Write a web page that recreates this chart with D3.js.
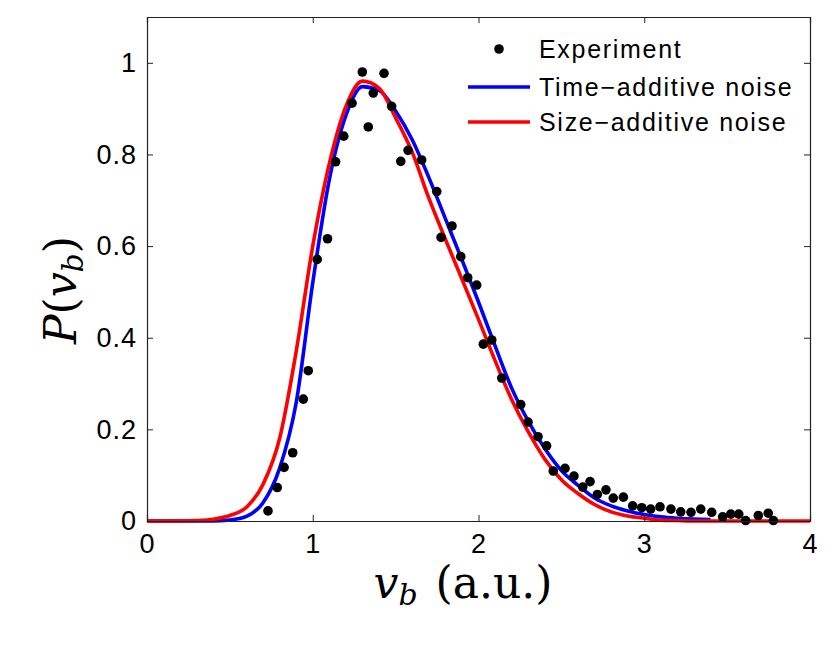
<!DOCTYPE html>
<html lang="en">
	<head>
		<meta charset="utf-8">
		<title>P(v_b) distribution</title>
		<script type="text/javascript" src="https://cdn.jsdelivr.net/npm/d3@7"></script>
		<style type="text/css">
			body { margin: 0; background: #fff; }
			.tick text { font-family: "Liberation Sans", Arial, sans-serif; font-size: 27px; letter-spacing: 1px; fill: #000; }
			.legend text { font-family: "Liberation Sans", Arial, sans-serif; font-size: 25px; letter-spacing: 1.7px; fill: #000; }
			.label { font-family: "DejaVu Serif", "Liberation Serif", serif; fill: #000; }
		</style>
	</head>
	<body>
		<script type="text/javascript">

			//Width and height
			var w = 830;
			var h = 646;
			var margin = {left: 147, right: 20, top: 17, bottom: 125};

			//Experiment points
			var expX = [0.730, 0.786, 0.827, 0.879, 0.943, 0.973, 1.027, 1.089, 1.138, 1.187,
						1.237, 1.299, 1.335, 1.365, 1.430, 1.476, 1.531, 1.575, 1.657, 1.748,
						1.774, 1.840, 1.893, 1.935, 1.989, 2.029, 2.080, 2.140, 2.255, 2.299,
						2.359, 2.411, 2.451, 2.522, 2.576, 2.629, 2.673, 2.717, 2.769, 2.813,
						2.874, 2.930, 2.985, 3.039, 3.095, 3.161, 3.220, 3.282, 3.341, 3.407,
						3.473, 3.522, 3.570, 3.612, 3.688, 3.748, 3.779];
			var expY = [0.022, 0.073, 0.117, 0.149, 0.266, 0.328, 0.571, 0.616, 0.784, 0.840,
						0.912, 0.980, 0.860, 0.934, 0.977, 0.905, 0.785, 0.809, 0.788, 0.719,
						0.619, 0.644, 0.577, 0.531, 0.515, 0.386, 0.395, 0.312, 0.254, 0.216,
						0.184, 0.164, 0.109, 0.115, 0.098, 0.074, 0.086, 0.058, 0.068, 0.050,
						0.052, 0.033, 0.029, 0.026, 0.031, 0.026, 0.020, 0.019, 0.026, 0.019,
						0.009, 0.015, 0.015, 0.001, 0.012, 0.017, 0.001];

			//Time-additive noise curve
			var timeX = [0, 0.1, 0.2, 0.3, 0.4, 0.5, 0.6, 0.7, 0.8, 0.9, 1.0, 1.1, 1.2, 1.3, 1.4, 1.5, 1.6, 1.7,
						 1.8, 1.9, 2.0, 2.1, 2.2, 2.3, 2.4, 2.5, 2.6, 2.7, 2.8, 2.9, 3.0, 3.1, 3.2, 3.3, 3.4];
			var timeY = [0, 0, 0, 0, 0, 0.002, 0.010, 0.040, 0.115, 0.258, 0.520, 0.745, 0.885, 0.948, 0.940, 0.895, 0.832, 0.750,
						 0.660, 0.570, 0.478, 0.382, 0.290, 0.218, 0.158, 0.110, 0.078, 0.050, 0.033, 0.022, 0.014, 0.009, 0.006, 0.004, 0.003];

			//Size-additive noise curve
			var sizeX = [0, 0.1, 0.2, 0.3, 0.4, 0.5, 0.6, 0.7, 0.8, 0.9, 1.0, 1.1, 1.2, 1.3, 1.4, 1.5, 1.6, 1.7,
						 1.8, 1.9, 2.0, 2.1, 2.2, 2.3, 2.4, 2.5, 2.6, 2.7, 2.8, 2.9, 3.0, 3.1, 3.2, 3.3, 3.5, 4.0];
			var sizeY = [0, 0, 0, 0.001, 0.004, 0.012, 0.030, 0.080, 0.180, 0.370, 0.600, 0.780, 0.905, 0.960, 0.945, 0.880, 0.805, 0.705,
						 0.615, 0.528, 0.440, 0.350, 0.265, 0.195, 0.135, 0.090, 0.060, 0.036, 0.020, 0.011, 0.006, 0.002, 0.001, 0, 0, 0];

			var xTicks = [0, 1, 2, 3, 4];
			var yTicks = [0, 0.2, 0.4, 0.6, 0.8, 1];
			var seriesNames = ["Experiment", "Time\u2212additive noise", "Size\u2212additive noise"];

			var xScale = d3.scaleLinear()
							.domain([0, 4])
							.range([margin.left, w - margin.right]);

			var yScale = d3.scaleLinear()
							.domain([0, 1.1])
							.range([h - margin.bottom, margin.top]);

			//Create SVG element
			var svg = d3.select("body")
						.append("svg")
						.attr("width", w)
						.attr("height", h);

			var x0 = xScale.range()[0], x1 = xScale.range()[1];
			var y0 = yScale.range()[0], y1 = yScale.range()[1];

			//Curves
			var line = d3.line()
						.x(function(d) { return xScale(d[0]); })
						.y(function(d) { return yScale(d[1]); })
						.curve(d3.curveMonotoneX);

			svg.append("path")
			   .datum(d3.zip(timeX, timeY))
			   .attr("d", line)
			   .attr("fill", "none")
			   .attr("stroke", "#0000ff")
			   .attr("stroke-width", 3.6);

			svg.append("path")
			   .datum(d3.zip(sizeX, sizeY))
			   .attr("d", line)
			   .attr("fill", "none")
			   .attr("stroke", "#ff0000")
			   .attr("stroke-width", 3.6);

			//Experiment dots
			svg.selectAll("circle.exp")
			   .data(d3.zip(expX, expY))
			   .enter()
			   .append("circle")
			   .attr("class", "exp")
			   .attr("cx", function(d) { return xScale(d[0]); })
			   .attr("cy", function(d) { return yScale(d[1]); })
			   .attr("r", 4.8)
			   .attr("fill", "#000");

			//Axes (ticks pointing inward, box around)
			var tickLen = 6;
			svg.append("g")
			   .attr("transform", "translate(0," + y0 + ")")
			   .call(d3.axisBottom(xScale).tickValues(xTicks).tickSize(-tickLen).tickPadding(13)
					.tickFormat(function(d) { return String(d); }));
			svg.append("g")
			   .attr("transform", "translate(0," + y1 + ")")
			   .call(d3.axisTop(xScale).tickValues(xTicks).tickSize(-tickLen).tickFormat(""));
			svg.append("g")
			   .attr("transform", "translate(" + x0 + ",0)")
			   .call(d3.axisLeft(yScale).tickValues(yTicks).tickSize(-tickLen).tickPadding(10)
					.tickFormat(function(d) { return String(d); }));
			svg.append("g")
			   .attr("transform", "translate(" + x1 + ",0)")
			   .call(d3.axisRight(yScale).tickValues(yTicks).tickSize(-tickLen).tickFormat(""));

			svg.selectAll(".domain").attr("stroke", "#222").attr("stroke-width", 1.2);
			svg.selectAll(".tick line").attr("stroke", "#222");

			//Legend
			var legend = svg.append("g").attr("class", "legend");
			var legY = [49, 87, 122];
			legend.append("circle")
				  .attr("cx", 499).attr("cy", legY[0]).attr("r", 4.8).attr("fill", "#000");
			legend.append("line")
				  .attr("x1", 468).attr("x2", 530).attr("y1", legY[1]).attr("y2", legY[1])
				  .attr("stroke", "#0000ff").attr("stroke-width", 3.6);
			legend.append("line")
				  .attr("x1", 468).attr("x2", 530).attr("y1", legY[2]).attr("y2", legY[2])
				  .attr("stroke", "#ff0000").attr("stroke-width", 3.6);
			legend.selectAll("text")
				  .data(seriesNames)
				  .enter()
				  .append("text")
				  .attr("x", 539)
				  .attr("y", function(d, i) { return legY[i] + 9; })
				  .text(function(d) { return d; });

			//Axis labels
			var xl = svg.append("text")
						.attr("class", "label")
						.attr("x", 463)
						.attr("y", 598)
						.attr("text-anchor", "middle")
						.attr("font-size", "44px");
			xl.append("tspan").attr("font-style", "italic").text("v");
			xl.append("tspan").attr("font-style", "italic").attr("font-size", "30px").attr("dy", 7).text("b");
			xl.append("tspan").attr("dy", -7).attr("dx", 18).text("(a.u.)");

			var yl = svg.append("text")
						.attr("class", "label")
						.attr("transform", "translate(76,290) rotate(-90)")
						.attr("text-anchor", "middle")
						.attr("font-size", "44px");
			yl.append("tspan").attr("font-style", "italic").text("P");
			yl.append("tspan").text("(");
			yl.append("tspan").attr("font-style", "italic").text("v");
			yl.append("tspan").attr("font-style", "italic").attr("font-size", "30px").attr("dy", 7).text("b");
			yl.append("tspan").attr("dy", -7).text(")");

		</script>
	</body>
</html>
